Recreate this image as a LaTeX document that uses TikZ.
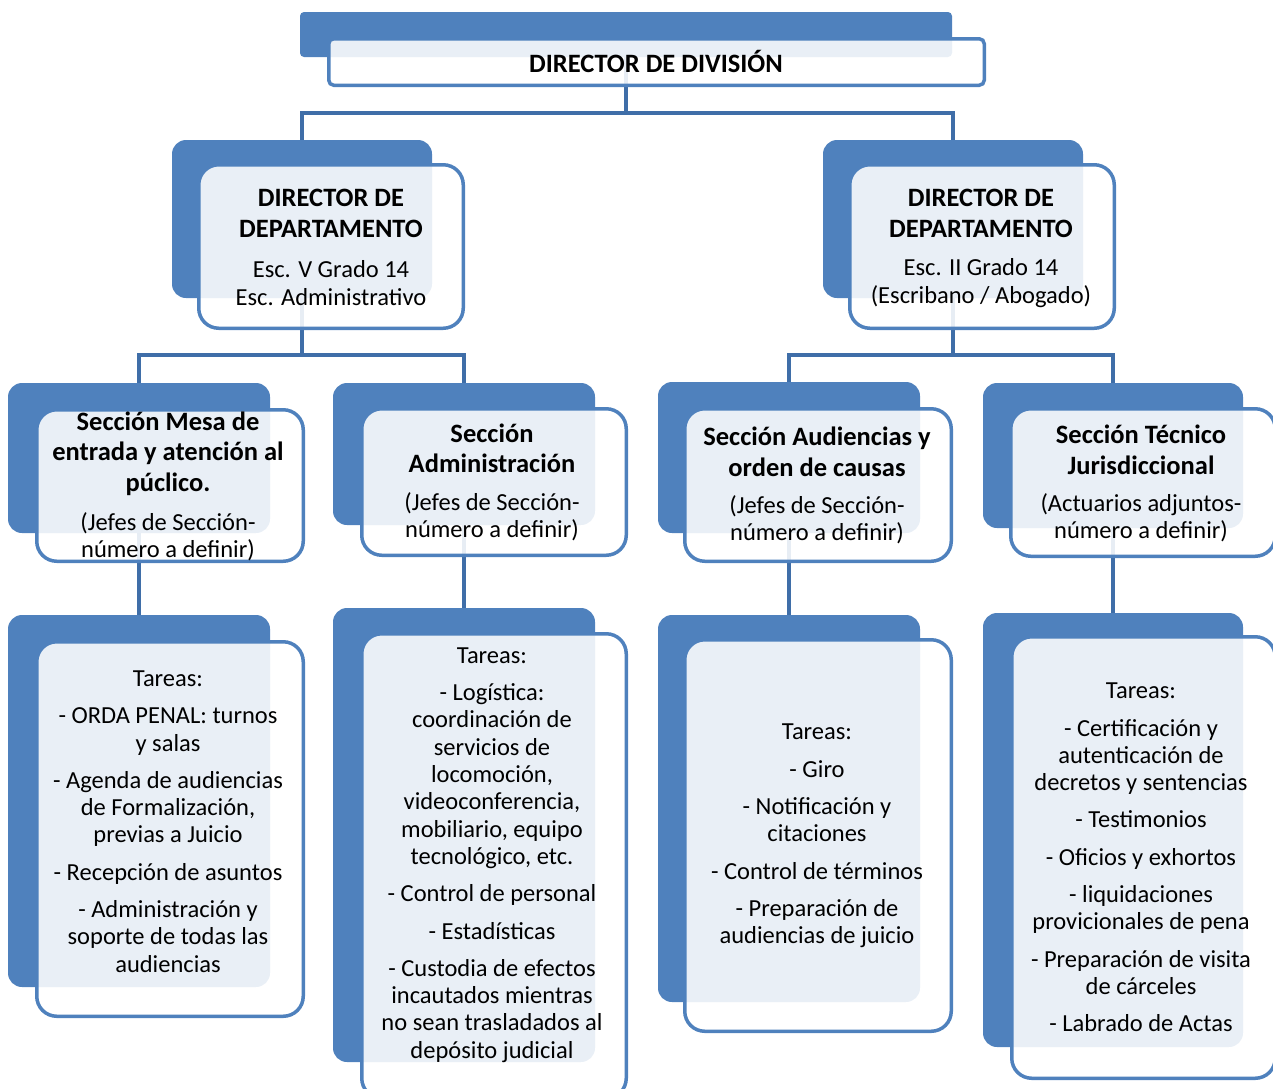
\documentclass[tikz,border=0pt]{standalone}
\usepackage{fontspec}
\setmainfont{Carlito}
\usetikzlibrary{backgrounds}
\definecolor{boxblue}{HTML}{4F81BD}
\definecolor{lineblue}{HTML}{3F6EA8}
\newcommand\mytaskfont{\fontsize{24.5}{27.3}\selectfont}
\newcommand\myheadfont{\fontsize{26.5}{30.5}\selectfont\bfseries}
\tikzset{
  backbox/.style={fill=boxblue, draw=none, rounded corners=14pt, inner sep=0pt},
  frontbox/.style={draw=boxblue, line width=3.5pt, fill=white, fill opacity=0.88, rounded corners=20pt, inner sep=0pt},
  conn/.style={draw=lineblue, line width=4.5pt},
  txt/.style={align=center, inner sep=0pt, text=black, font=\mytaskfont, text opacity=1},
  hd/.style={txt, font=\myheadfont},
}
\begin{document}
\begin{tikzpicture}[x=1pt, y=-1pt]
\useasboundingbox (0,0) rectangle (1273,1088);
\clip (0,0) rectangle (1273,1088);
% back boxes
\node[backbox, rounded corners=4pt, minimum width=652pt, minimum height=45pt] (topb) at (626,34.5) {};
\node[backbox, minimum width=260pt, minimum height=158pt] (dLb) at (302,219) {};
\node[backbox, minimum width=260pt, minimum height=158pt] (dRb) at (953,219) {};
\node[backbox, minimum width=262pt, minimum height=150pt] (s1b) at (139,458) {};
\node[backbox, minimum width=262pt, minimum height=142pt] (s2b) at (464,454) {};
\node[backbox, minimum width=262pt, minimum height=151pt] (s3b) at (789,457.5) {};
\node[backbox, minimum width=260pt, minimum height=145pt] (s4b) at (1113,455.5) {};
\node[backbox, minimum width=262pt, minimum height=372pt] (t1b) at (139,801) {};
\node[backbox, minimum width=262pt, minimum height=454pt] (t2b) at (464,835) {};
\node[backbox, minimum width=262pt, minimum height=387pt] (t3b) at (789,808.5) {};
\node[backbox, minimum width=260pt, minimum height=434pt] (t4b) at (1113,830) {};
% connectors
\coordinate (j0) at (626,113);
\coordinate (j1) at (302,355);
\coordinate (j2) at (953,355);
\begin{scope}[on background layer]
\draw[conn] (topb.center) -- (j0) -| (dLb.center);
\draw[conn] (j0) -| (dRb.center);
\draw[conn] (dLb.center) -- (j1) -| (s1b.center);
\draw[conn] (j1) -| (s2b.center);
\draw[conn] (dRb.center) -- (j2) -| (s3b.center);
\draw[conn] (j2) -| (s4b.center);
\draw[conn] (s1b.center) -- (t1b.center);
\draw[conn] (s2b.center) -- (t2b.center);
\draw[conn] (s3b.center) -- (t3b.center);
\draw[conn] (s4b.center) -- (t4b.center);
\end{scope}
% front boxes
\node[frontbox, rounded corners=5pt, minimum width=655.5pt, minimum height=46.5pt] (topf) at (656.5,62) {};
\node[frontbox, minimum width=264.5pt, minimum height=163.5pt] (dLf) at (331,246.5) {};
\node[frontbox, minimum width=264.5pt, minimum height=163.5pt] (dRf) at (982,246.5) {};
\node[frontbox, minimum width=266.5pt, minimum height=151.5pt] (s1f) at (170,485.5) {};
\node[frontbox, minimum width=264.5pt, minimum height=146.5pt] (s2f) at (494,482) {};
\node[frontbox, minimum width=266.5pt, minimum height=152.5pt] (s3f) at (818,485) {};
\node[frontbox, minimum width=264.5pt, minimum height=147.5pt] (s4f) at (1143,482.5) {};
\node[frontbox, minimum width=266.5pt, minimum height=374.5pt] (t1f) at (170,829) {};
\node[frontbox, minimum width=264.5pt, minimum height=464.5pt] (t2f) at (494,866) {};
\node[frontbox, minimum width=266.5pt, minimum height=391.5pt] (t3f) at (818,835.5) {};
\node[frontbox, minimum width=263.5pt, minimum height=441.5pt] (t4f) at (1143.5,857.5) {};
% texts
\node[hd] (topt) at (656,61) {DIRECTOR DE DIVISIÓN};
\node[hd] (dLh) at (331,213.5) {DIRECTOR DE\\DEPARTAMENTO};
\node[txt] (dLs) at (331,283) {Esc. V Grado 14\\Esc. Administrativo};
\node[hd] (dRh) at (981,213.5) {DIRECTOR DE\\DEPARTAMENTO};
\node[txt] (dRs) at (981,283) {Esc. II Grado 14\\(Escribano / Abogado)};
\node[hd] (s1h) at (168,453.5) {Sección Mesa de\\entrada y atención al\\púclico.};
\node[txt] (s1s) at (168,537) {(Jefes de Sección-\\número a definir)};
\node[hd] (s2h) at (492,448.5) {Sección\\Administración};
\node[txt] (s2s) at (492,517) {(Jefes de Sección-\\número a definir)};
\node[hd] (s3h) at (817,452) {Sección Audiencias y\\orden de causas};
\node[txt] (s3s) at (817,520) {(Jefes de Sección-\\número a definir)};
\node[hd] (s4h) at (1141,450) {Sección Técnico\\Jurisdiccional};
\node[txt] (s4s) at (1141,518) {(Actuarios adjuntos-\\número a definir)};
\node[txt] (t1) at (168,821.5) {Tareas:\\[10pt]- ORDA PENAL: turnos\\y salas\\[10pt]- Agenda de audiencias\\de Formalización,\\previas a Juicio\\[10pt]- Recepción de asuntos\\[10pt]- Administración y\\soporte de todas las\\audiencias};
\node[txt] (t2) at (492,855) {Tareas:\\[10pt]- Logística:\\coordinación de\\servicios de\\locomoción,\\videoconferencia,\\mobiliario, equipo\\tecnológico, etc.\\[10pt]- Control de personal\\[10pt]- Estadísticas\\[10pt]- Custodia de efectos\\incautados mientras\\no sean trasladados al\\depósito judicial};
\node[txt] (t3) at (817,836) {Tareas:\\[10pt]- Giro\\[10pt]- Notificación y\\citaciones\\[10pt]- Control de términos\\[10pt]- Preparación de\\audiencias de juicio};
\node[txt] (t4) at (1141,857.5) {Tareas:\\[10pt]- Certificación y\\autenticación de\\decretos y sentencias\\[10pt]- Testimonios\\[10pt]- Oficios y exhortos\\[10pt]- liquidaciones\\provicionales de pena\\[10pt]- Preparación de visita\\de cárceles\\[10pt]- Labrado de Actas};
\end{tikzpicture}
\end{document}
